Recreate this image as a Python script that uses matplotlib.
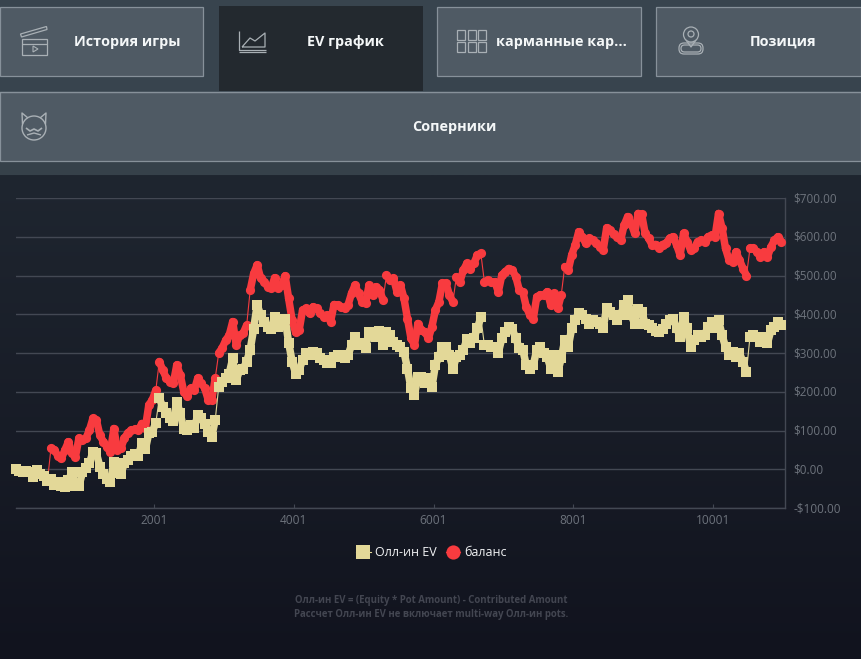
import numpy as np
import matplotlib
matplotlib.use("Agg")
import matplotlib.pyplot as plt
from matplotlib.patches import Rectangle, Circle, Polygon, FancyBboxPatch
from matplotlib.ticker import FuncFormatter
from matplotlib.transforms import ScaledTranslation

# ---- data ----
FIRST_HAND = 27
HANDS_PER_POINT = 50
ev_values = [
    0,-4,-6,-4,-8,-20,-3,-12,-18,-30,-24,-40,-33,-42,-46,-28,-8,-42,-44,-8,
    2,15,45,41,7,-11,-24,-32,18,-9,-11,15,24,34,39,34,67,51,93,97,
    120,183,161,144,131,125,174,144,103,101,114,106,140,131,118,97,84,127,213,226,
    235,247,286,230,256,260,278,308,363,424,398,381,368,363,394,368,381,389,327,278,
    247,256,282,299,295,303,299,286,282,273,273,290,295,290,288,295,320,342,325,320,
    312,355,346,342,357,320,355,346,329,320,316,303,260,209,192,239,239,222,235,213,
    269,290,316,316,295,260,290,295,308,335,325,338,364,392,321,321,316,316,301,338,
    355,366,361,338,312,308,269,260,269,308,316,299,290,260,295,252,286,333,316,364,
    385,404,398,389,376,385,381,376,365,417,407,398,385,398,424,437,398,376,413,407,
    376,372,364,357,353,362,376,385,389,365,342,393,364,316,333,346,342,346,368,381,
    364,385,346,316,295,303,290,299,277,252,342,346,342,329,342,325,359,368,381,372,
]
balance_values = [
    0,-4,-6,-4,-8,-20,-3,-12,-18,-30,54,50,34,28,50,71,41,32,80,75,
    80,101,131,127,88,71,58,45,105,50,54,80,94,101,103,101,118,106,166,179,
    204,278,256,235,226,222,269,243,200,189,209,204,235,222,209,179,179,235,300,313,
    333,346,381,321,346,351,372,462,505,527,493,484,471,467,494,467,475,499,441,385,
    353,359,411,415,402,419,415,402,394,398,381,425,424,419,417,424,454,475,454,432,
    428,475,449,471,463,437,501,488,493,458,475,441,389,338,321,376,359,355,338,368,
    411,432,480,480,450,432,497,484,514,531,518,531,553,557,484,488,484,484,458,501,
    510,518,514,497,462,458,419,398,389,445,450,450,458,424,454,415,450,523,514,553,
    579,613,600,583,596,591,583,574,566,623,617,606,600,592,630,652,634,609,660,658,
    609,596,579,580,570,580,583,596,600,579,553,609,587,566,570,587,591,587,600,604,
    600,660,623,570,540,536,561,540,518,500,570,570,561,548,561,548,574,591,600,587,
]
hands = [FIRST_HAND + HANDS_PER_POINT * i for i in range(len(ev_values))]
x_ticks = [2001, 4001, 6001, 8001, 10001]
y_ticks = [-100, 0, 100, 200, 300, 400, 500, 600, 700]
series_names = ["Олл-ин EV", "баланс"]
tab_labels = ["История игры", "EV график", "карманные кар...", "Позиция", "Соперники"]
footnotes = ["Олл-ин EV = (Equity * Pot Amount) - Contributed Amount",
             "Рассчет Олл-ин EV не включает multi-way Олл-ин pots."]

W, H = 862, 659
plt.rcParams["font.family"] = ["Open Sans", "DejaVu Sans"]
fig = plt.figure(figsize=(W / 100, H / 100), dpi=100, facecolor="#14171f")

# ---- background and header (pixel coordinates) ----
bg = fig.add_axes([0, 0, 1, 1], zorder=0)
bg.set_xlim(0, W); bg.set_ylim(H, 0); bg.axis("off")
top = np.array([0x1f, 0x26, 0x30]) / 255
bot = np.array([0x11, 0x13, 0x1e]) / 255
grad = np.linspace(0, 1, 256)[:, None, None] * (bot - top)[None, None, :] + top[None, None, :]
bg.imshow(grad, extent=[0, W, H, 175], aspect="auto", zorder=0)
bg.set_xlim(0, W); bg.set_ylim(H, 0)
bg.add_patch(Rectangle((0, 0), W, 175, fc="#38444e", ec="none", zorder=1))
bg.add_patch(Rectangle((0, 161), W, 14, fc="#36414a", ec="none", zorder=1))

BTN_FC, BTN_EC, ICON = "#4f5a64", "#87919a", "#a9b0b5"
for x0, y0, x1, y1 in [(0.5, 6.5, 203.5, 75.5), (437.5, 6.5, 641.5, 75.5),
                       (656.5, 6.5, 861.5, 75.5), (0.5, 91.5, 861.5, 160.5)]:
    bg.add_patch(Rectangle((x0, y0), x1 - x0, y1 - y0, fc=BTN_FC, ec=BTN_EC, lw=0.9, zorder=2))
bg.add_patch(Rectangle((219, 6), 204, 85, fc="#23292f", ec="none", zorder=2))
bg.plot([0, 861], [91.5, 91.5], color=BTN_EC, lw=0.9, zorder=3)

tab_pos = [(127, 42), (345, 42), (561.5, 42), (783, 42), (454.5, 127)]
for s, (x, y) in zip(tab_labels, tab_pos):
    bg.text(x, y, s, color="#f4f7f8", fontsize=10.4, fontweight="bold",
            ha="center", va="center", zorder=4)

def ln(xs, ys, lw=0.9):
    bg.plot(xs, ys, color=ICON, lw=lw, zorder=4, solid_capstyle="butt")

# clapper icon
bg.add_patch(Rectangle((22, 39), 25.5, 16, fc="none", ec=ICON, lw=0.9, zorder=4))
ln([22, 47.5], [44, 44])
bg.add_patch(Polygon([(20.5, 34), (46.5, 26.5), (47, 29.5), (21.5, 37)], fc="none", ec=ICON, lw=0.9, zorder=4))
bg.add_patch(Polygon([(33, 46), (38, 49), (33, 52)], fc="none", ec=ICON, lw=0.8, zorder=4))
# chart icon
ln([239.5, 239.5, 266], [31, 49.5, 49.5])
ln([239.5, 266], [51.5, 51.5])
ln([242, 250, 255, 265, 265, 242], [47, 38, 41, 33, 47, 47])
# grid icon
for col in range(3):
    for row in range(2):
        bg.add_patch(Rectangle((457.5 + col * 10.2, 30 + row * 12), 8, 9.5, fc="none", ec=ICON, lw=0.9, zorder=4))
# pin icon
bg.add_patch(Circle((691, 34.5), 7.5, fc="none", ec=ICON, lw=0.9, zorder=4))
bg.add_patch(Circle((691, 34), 3, fc="none", ec=ICON, lw=0.9, zorder=4))
ln([686, 691, 696], [40, 47, 40])
bg.add_patch(FancyBboxPatch((681, 45), 20, 7, boxstyle="round,pad=0,rounding_size=3.5", fc="none", ec=ICON, lw=0.9, zorder=4))
bg.add_patch(FancyBboxPatch((679, 43), 24, 11, boxstyle="round,pad=0,rounding_size=5", fc="none", ec=ICON, lw=0.9, zorder=4))
# cat icon
bg.add_patch(Circle((34, 128), 12, fc="none", ec=ICON, lw=1, zorder=4))
ln([22.5, 22, 28], [124, 113, 118], 1)
ln([45.5, 46, 40], [124, 113, 118], 1)
ln([26, 30, 34, 38, 42], [128, 131, 129, 131, 128], 1.2)
ln([27, 34, 41], [135, 133, 135], 1)

# ---- chart ----
ax = fig.add_axes([16 / W, 1 - 508 / H, (785 - 16) / W, (508 - 198) / H], zorder=2)
ax.set_facecolor("none")
ax.set_xlim(27, 11028)
ax.set_ylim(-100, 700)
grid_c = "#434853"
ax.set_yticks(y_ticks)
ax.set_xticks(x_ticks)
ax.yaxis.tick_right()
ax.yaxis.set_major_formatter(FuncFormatter(lambda v, _: f"-${abs(v):.2f}" if v < 0 else f"${v:.2f}"))
ax.grid(axis="y", color=grid_c, lw=1)
ax.set_axisbelow(True)
for s in ["top", "left"]:
    ax.spines[s].set_visible(False)
for s in ["right", "bottom"]:
    ax.spines[s].set_color(grid_c)
    ax.spines[s].set_linewidth(1)
ax.tick_params(axis="y", length=0, pad=6.2, labelcolor="#6d737c", labelsize=8.5)
ax.tick_params(axis="x", length=3, direction="in", color=grid_c, pad=4.5, labelcolor="#6d737c", labelsize=8.6)
up = ScaledTranslation(0, 0.6 / 72, fig.dpi_scale_trans)
for t in ax.get_yticklabels():
    t.set_transform(t.get_transform() + up)

def draw_series(values, marker, color, label, z):
    """Thin line through every point, a wide line along the steady runs, markers on top."""
    v = np.asarray(values, float)
    for i in range(len(v) - 1):
        if abs(v[i + 1] - v[i]) <= 62:
            ax.plot(hands[i:i + 2], v[i:i + 2], color=color, lw=5.4,
                    solid_capstyle="round", zorder=z, clip_on=False)
    line, = ax.plot(hands, v, "-" + marker, color=color, lw=0.8, ms=6.6, mew=0,
                    label=label, zorder=z, clip_on=False)
    return line

l_bal = draw_series(balance_values, "o", "#f83b3f", series_names[1], 3)
l_ev = draw_series(ev_values, "s", "#e3d898", series_names[0], 4)

leg = ax.legend(handles=[l_ev, l_bal], ncol=2, frameon=False, loc="center",
                bbox_to_anchor=(431.5 / W, 1 - 553 / H), bbox_transform=fig.transFigure,
                fontsize=9, labelcolor="#f2f3f5", markerscale=1.55, numpoints=1,
                handlelength=1.15, handletextpad=0.35, columnspacing=0.7)
for t in leg.get_texts():
    t.set_fontweight("medium")

for s, y in zip(footnotes, [600, 615]):
    bg.text(431, y, s, color="#434651", fontsize=6.9, fontweight="bold",
            ha="center", va="center", zorder=4)

fig.savefig("out.png", dpi=100, facecolor=fig.get_facecolor())
